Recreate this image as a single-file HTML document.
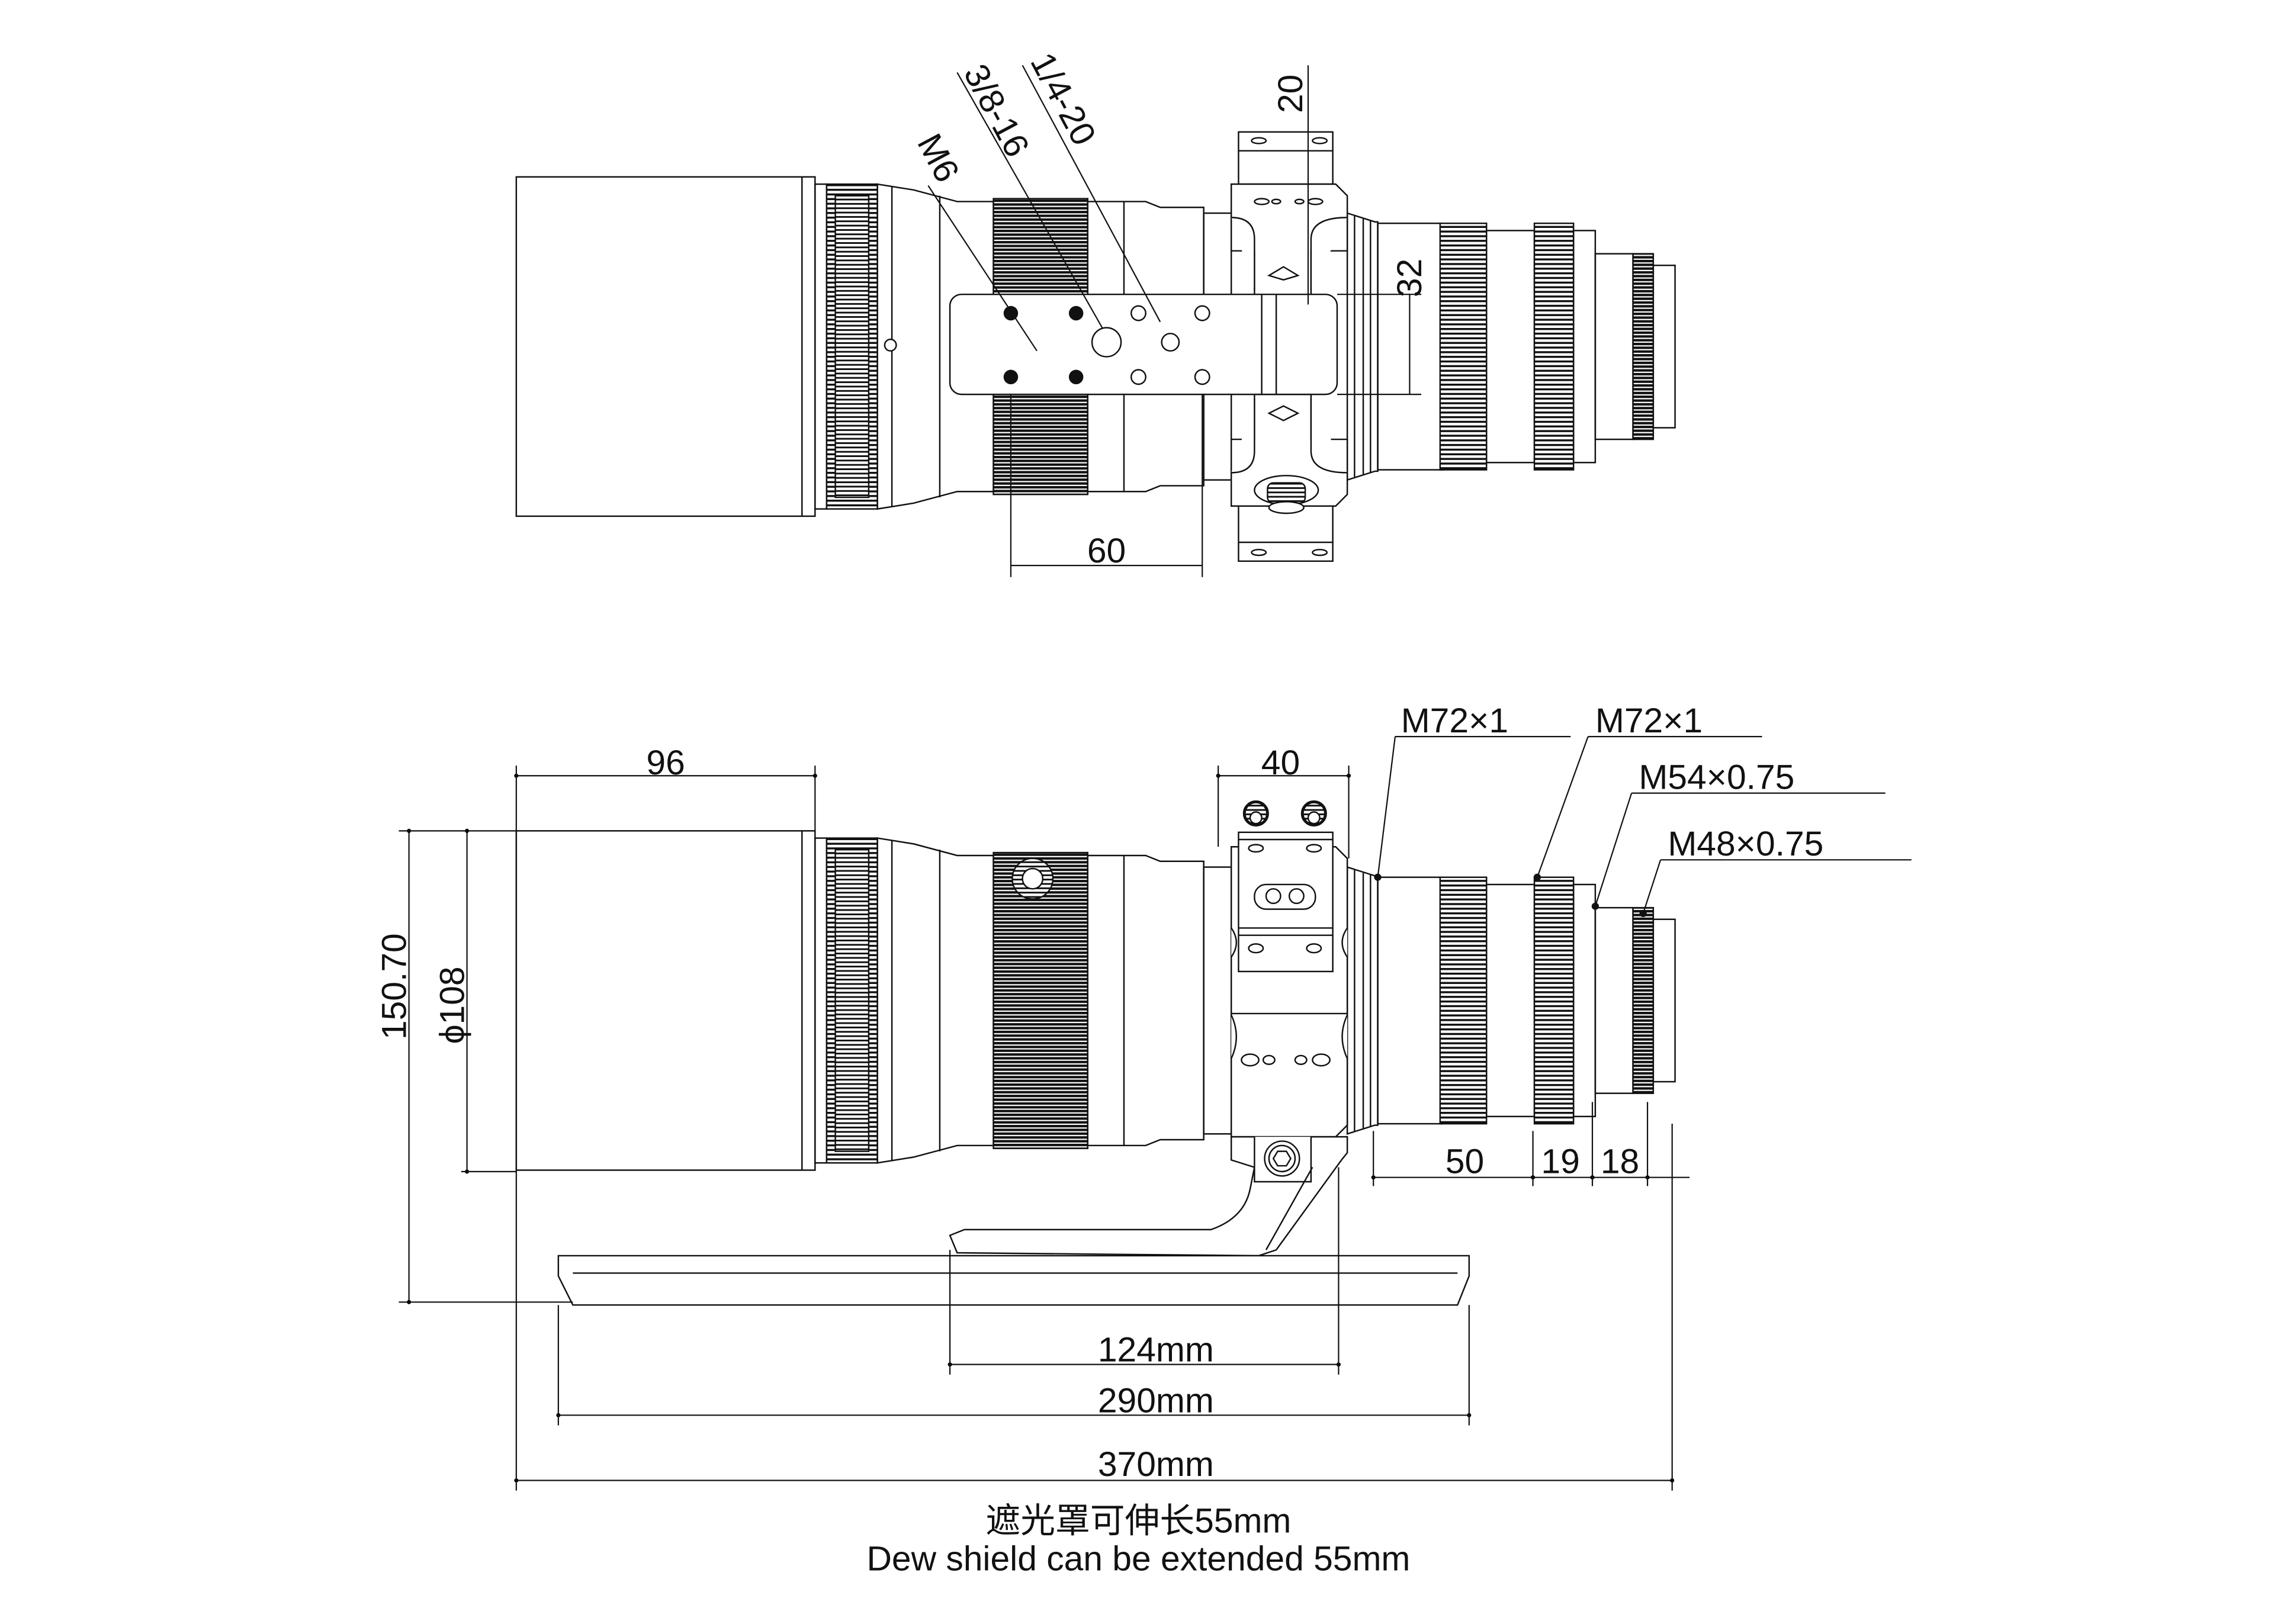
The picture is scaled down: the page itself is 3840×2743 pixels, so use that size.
<!DOCTYPE html>
<html><head><meta charset="utf-8"><style>
html,body{margin:0;padding:0;background:#fff}
svg{display:block}
text{font-family:"Liberation Sans","Noto Sans CJK SC",sans-serif;fill:#111}
</style></head><body>
<svg width="3840" height="2743" viewBox="0 0 1568 1120" preserveAspectRatio="none" xmlns="http://www.w3.org/2000/svg">
<defs>
<pattern id="kn" width="6" height="3.2" patternUnits="userSpaceOnUse"><rect width="6" height="3.2" fill="#fff"/><rect y="0" width="6" height="1.4" fill="#111"/></pattern>
<pattern id="knd" width="6" height="2.6" patternUnits="userSpaceOnUse"><rect width="6" height="2.6" fill="#fff"/><rect width="6" height="1.7" fill="#111"/></pattern>
<pattern id="kn2" width="4" height="3" patternUnits="userSpaceOnUse"><rect width="4" height="3" fill="#fff"/><rect width="4" height="1.2" fill="#111"/></pattern>
<marker id="dot" viewBox="0 0 4 4" refX="2" refY="2" markerWidth="4" markerHeight="4"><circle cx="2" cy="2" r="1.6" fill="#000"/></marker>
<g id="lens" fill="none" stroke="#111" stroke-width="1">
<rect x="356" y="-117" width="206" height="234"/>
<line x1="553" y1="-117" x2="553" y2="117"/>
<rect x="562" y="-112" width="8" height="224"/>
<rect x="570" y="-112" width="35" height="224" fill="url(#kn)"/>
<rect x="576" y="-104" width="23" height="208" fill="url(#kn2)"/>
<path d="M605,-112 L630,-108 L660,-100 L685,-100 L685,100 L660,100 L630,108 L605,112 Z"/>
<line x1="615" y1="-110" x2="615" y2="110"/>
<line x1="648" y1="-104" x2="648" y2="104"/>
<rect x="685" y="-102" width="65" height="204" fill="url(#knd)"/>
<path d="M750,-100 L790,-100 L800,-96 L830,-96 L830,96 L800,96 L790,100 L750,100 Z"/>
<line x1="775" y1="-100" x2="775" y2="100"/>
<rect x="830" y="-92" width="19" height="184"/>
<path d="M929,-92 L948,-86 L950,-86 L950,86 L948,86 L929,92 Z"/>
<line x1="934" y1="-90" x2="934" y2="90"/><line x1="940" y1="-88" x2="940" y2="88"/><line x1="945" y1="-87" x2="945" y2="87"/>
<rect x="950" y="-85" width="45" height="170"/>
<rect x="993" y="-85" width="32" height="170" fill="url(#kn)"/>
<rect x="1025" y="-80" width="33" height="160"/>
<rect x="1058" y="-85" width="27" height="170" fill="url(#kn)"/>
<rect x="1085" y="-80" width="15" height="160"/>
<rect x="1100" y="-64" width="26" height="128"/>
<rect x="1126" y="-64" width="14" height="128" fill="url(#knd)"/>
<rect x="1140" y="-56" width="15" height="112"/>
</g>
</defs>

<!-- TOP VIEW -->
<use href="#lens" transform="translate(0,239)"/>
<g fill="#fff" stroke="#111" stroke-width="1">
<!-- top clamp -->
<rect x="854" y="91" width="65" height="36"/>
<line x1="854" y1="104" x2="919" y2="104"/>
<ellipse cx="868" cy="97" rx="5" ry="2"/><ellipse cx="910" cy="97" rx="5" ry="2"/>
<path d="M849,127 L921,127 L929,135 L929,173 L904,173 L904,203 L865,203 L865,173 L849,173 Z"/>
<path d="M849,150 Q865,150 865,165 L865,200 M929,150 Q904,150 904,165 L904,200"/>
<ellipse cx="870" cy="139" rx="5" ry="2"/><ellipse cx="880" cy="139" rx="3" ry="1.5"/><ellipse cx="896" cy="139" rx="3" ry="1.5"/><ellipse cx="907" cy="139" rx="5" ry="2"/>
<path d="M875,190 L885,184 L895,190 L885,193 Z"/>
<!-- bottom clamp -->
<path d="M865,272 L904,272 L904,303 L929,303 L929,341 L921,349 L849,349 L849,303 L865,303 Z"/>
<path d="M849,326 Q865,326 865,311 L865,275 M929,326 Q904,326 904,311 L904,275"/>
<path d="M875,285 L885,280 L895,285 L885,290 Z"/>
<rect x="854" y="349" width="65" height="38"/>
<line x1="854" y1="374" x2="919" y2="374"/>
<ellipse cx="868" cy="381" rx="5" ry="2"/><ellipse cx="910" cy="381" rx="5" ry="2"/>
<ellipse cx="887" cy="338" rx="22" ry="10"/>
<rect x="874" y="333" width="26" height="14" rx="4" fill="url(#kn2)"/>
<ellipse cx="887" cy="350" rx="12" ry="4"/>
<!-- plate -->
<rect x="655" y="203" width="267" height="69" rx="8"/>
<line x1="870" y1="203" x2="870" y2="272"/>
<line x1="880" y1="203" x2="880" y2="272"/>
</g>
<g fill="#111">
<circle cx="697" cy="216" r="5"/><circle cx="742" cy="216" r="5"/><circle cx="697" cy="260" r="5"/><circle cx="742" cy="260" r="5"/>
</g>
<g fill="#fff" stroke="#111">
<circle cx="785" cy="216" r="5"/><circle cx="829" cy="216" r="5"/><circle cx="785" cy="260" r="5"/><circle cx="829" cy="260" r="5"/>
<circle cx="763" cy="236" r="10"/><circle cx="807" cy="236" r="6"/><circle cx="614" cy="238" r="4"/>
</g>
<g stroke="#111" stroke-width="0.9" fill="none">
<line x1="640" y1="128" x2="715" y2="242"/>
<line x1="660" y1="50" x2="760" y2="226"/>
<line x1="705" y1="45" x2="800" y2="222"/>
<line x1="697" y1="272" x2="697" y2="398"/><line x1="829" y1="272" x2="829" y2="398"/>
<line x1="697" y1="390" x2="829" y2="390"/>
<line x1="902" y1="45" x2="902" y2="210"/>
<line x1="922" y1="203" x2="980" y2="203"/><line x1="922" y1="272" x2="980" y2="272"/>
<line x1="972" y1="203" x2="972" y2="272"/>
</g>
<text x="763" y="388" font-size="24" text-anchor="middle">60</text>
<text transform="translate(898,78) rotate(-90)" font-size="24">20</text>
<text transform="translate(980,205) rotate(-90)" font-size="24">32</text>
<text transform="translate(632,98) rotate(62)" font-size="24">M6</text>
<text transform="translate(664,50) rotate(62)" font-size="24">3/8-16</text>
<text transform="translate(710,42) rotate(62)" font-size="24">1/4-20</text>

<!-- BOTTOM VIEW -->
<use href="#lens" transform="translate(0,690)"/>
<g fill="#fff" stroke="#111" stroke-width="1">
<path d="M849,584 L921,584 L929,592 L929,776 L921,784 L849,784 Z"/>
<path d="M849,640 Q856,650 849,660 M929,640 Q922,650 929,660 M849,700 Q856,715 849,730 M929,700 Q922,715 929,730"/>
<line x1="849" y1="699" x2="929" y2="699"/>
<rect x="854" y="574" width="65" height="96"/>
<line x1="854" y1="579" x2="919" y2="579"/><line x1="854" y1="640" x2="919" y2="640"/><line x1="854" y1="645" x2="919" y2="645"/>
<ellipse cx="866" cy="585" rx="5" ry="2.5"/><ellipse cx="906" cy="585" rx="5" ry="2.5"/>
<rect x="865" y="610" width="42" height="17" rx="8"/>
<circle cx="878" cy="618" r="5"/><circle cx="894" cy="618" r="5"/>
<ellipse cx="866" cy="654" rx="5" ry="3"/><ellipse cx="906" cy="654" rx="5" ry="3"/>
<ellipse cx="862" cy="731" rx="6" ry="4"/><ellipse cx="875" cy="731" rx="4" ry="3"/><ellipse cx="897" cy="731" rx="4" ry="3"/><ellipse cx="911" cy="731" rx="6" ry="4"/>
<circle cx="866" cy="561" r="8" fill="url(#kn2)" stroke-width="2"/><circle cx="906" cy="561" r="8" fill="url(#kn2)" stroke-width="2"/>
<circle cx="866" cy="564" r="4"/><circle cx="906" cy="564" r="4"/>
<circle cx="712" cy="606" r="14" fill="url(#kn2)"/><circle cx="712" cy="606" r="7"/>
<!-- foot -->
<path d="M849,784 L929,784 L929,795 L925,800 L880,862 L868,866 L660,864 L655,852 L665,848 L835,848 Q858,840 862,820 L865,805 L849,800 Z"/>
<path d="M865,784 L865,815 L904,815 L904,784"/>
<line x1="905" y1="805" x2="873" y2="862"/>
<circle cx="884" cy="799" r="12"/><circle cx="884" cy="799" r="9"/>
<path d="M878,799 L881,794 L887,794 L890,799 L887,804 L881,804 Z"/>
<path d="M385,866 L1013,866 L1013,880 L1005,900 L395,900 L385,880 Z"/>
<line x1="395" y1="878" x2="1005" y2="878"/>
</g>
<g stroke="#111" stroke-width="0.9" fill="none" marker-start="url(#dot)" marker-end="url(#dot)">
<line x1="356" y1="535" x2="562" y2="535"/>
<line x1="840" y1="535" x2="930" y2="535"/>
<line x1="282" y1="573" x2="282" y2="898"/>
<line x1="322" y1="573" x2="322" y2="808"/>
<line x1="655" y1="941" x2="923" y2="941"/>
<line x1="385" y1="976" x2="1013" y2="976"/>
<line x1="356" y1="1021" x2="1153" y2="1021"/>
<line x1="947" y1="812" x2="1057" y2="812"/>
<line x1="1057" y1="812" x2="1098" y2="812"/>
<line x1="1098" y1="812" x2="1136" y2="812"/>
</g>
<g stroke="#111" stroke-width="0.9" fill="none">
<line x1="356" y1="528" x2="356" y2="1028"/><line x1="562" y1="528" x2="562" y2="573"/>
<line x1="840" y1="528" x2="840" y2="584"/><line x1="930" y1="528" x2="930" y2="592"/>
<line x1="275" y1="573" x2="356" y2="573"/><line x1="275" y1="898" x2="395" y2="898"/>
<line x1="318" y1="808" x2="356" y2="808"/>
<line x1="655" y1="862" x2="655" y2="948"/><line x1="923" y1="805" x2="923" y2="948"/>
<line x1="385" y1="900" x2="385" y2="983"/><line x1="1013" y1="900" x2="1013" y2="983"/>
<line x1="1153" y1="775" x2="1153" y2="1028"/>
<line x1="947" y1="780" x2="947" y2="818"/><line x1="1057" y1="780" x2="1057" y2="818"/>
<line x1="1098" y1="760" x2="1098" y2="818"/><line x1="1136" y1="760" x2="1136" y2="818"/>
<line x1="1136" y1="812" x2="1165" y2="812"/>
<line x1="962" y1="508" x2="1083" y2="508"/><line x1="962" y1="508" x2="950" y2="605"/>
<line x1="1095" y1="508" x2="1215" y2="508"/><line x1="1095" y1="508" x2="1060" y2="605"/>
<line x1="1125" y1="547" x2="1300" y2="547"/><line x1="1125" y1="547" x2="1100" y2="625"/>
<line x1="1145" y1="593" x2="1318" y2="593"/><line x1="1145" y1="593" x2="1133" y2="630"/>
</g>
<g fill="#111"><circle cx="950" cy="605" r="2.5"/><circle cx="1060" cy="605" r="2.5"/><circle cx="1100" cy="625" r="2.5"/><circle cx="1133" cy="630" r="2.5"/></g>
<g font-size="24">
<text x="459" y="534" text-anchor="middle">96</text>
<text x="883" y="534" text-anchor="middle">40</text>
<text transform="translate(280,717) rotate(-90)">150.70</text>
<text transform="translate(320,720) rotate(-90)">ϕ108</text>
<text x="1010" y="809" text-anchor="middle">50</text>
<text x="1076" y="809" text-anchor="middle">19</text>
<text x="1117" y="809" text-anchor="middle">18</text>
<text x="966" y="505">M72×1</text>
<text x="1100" y="505">M72×1</text>
<text x="1130" y="544">M54×0.75</text>
<text x="1150" y="590">M48×0.75</text>
<text x="797" y="939" text-anchor="middle">124mm</text>
<text x="797" y="974" text-anchor="middle">290mm</text>
<text x="797" y="1018" text-anchor="middle">370mm</text>
<text x="785" y="1057" text-anchor="middle">遮光罩可伸长55mm</text>
<text x="785" y="1083" text-anchor="middle">Dew shield can be extended 55mm</text>
</g>
</svg>
</body></html>
